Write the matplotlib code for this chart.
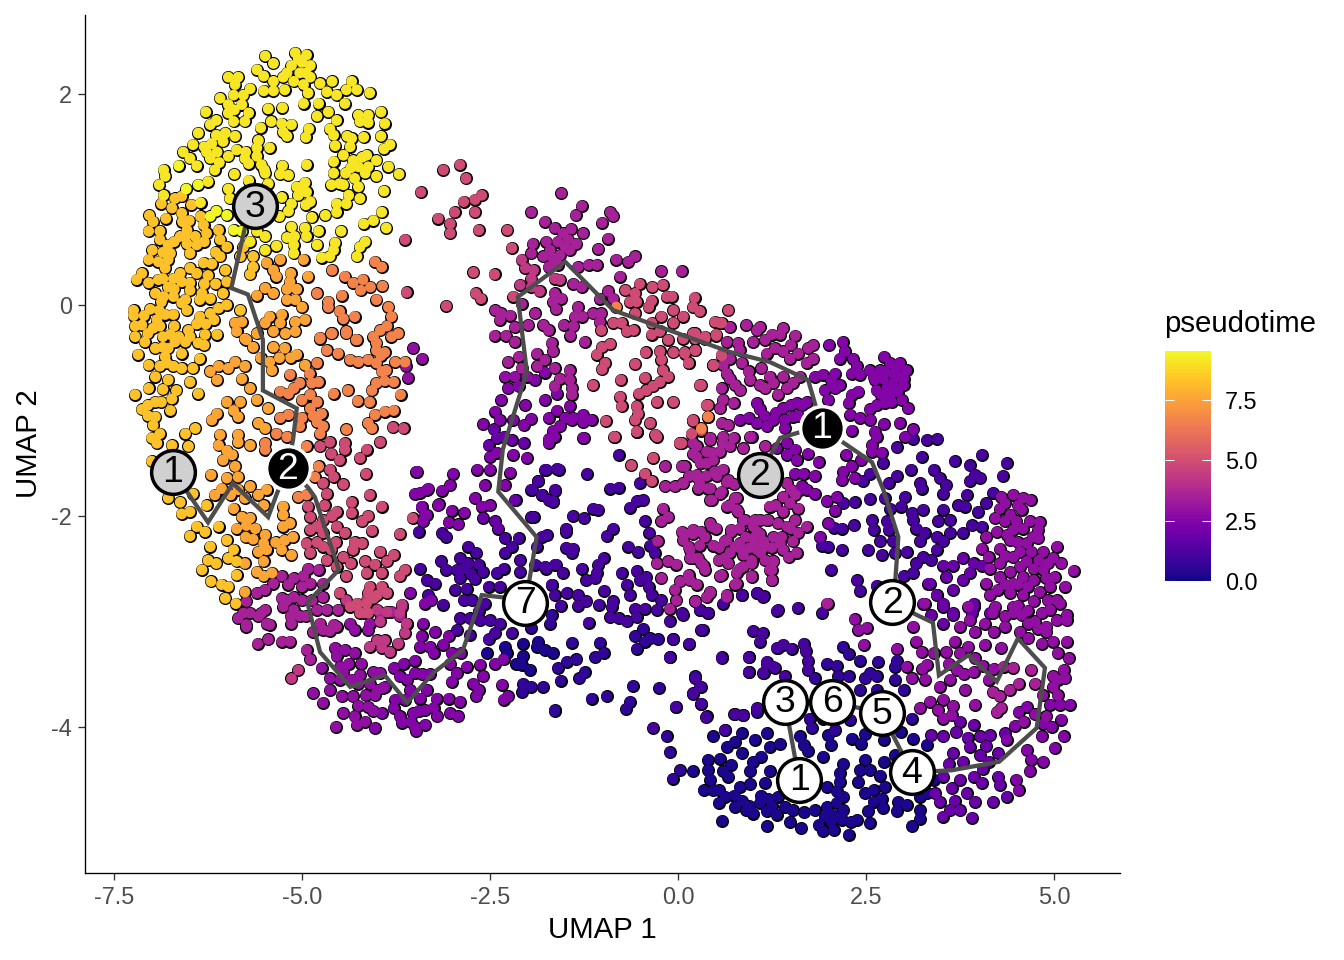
import numpy as np
import matplotlib
matplotlib.use('Agg')
import matplotlib.pyplot as plt
from matplotlib.colors import Normalize

plt.rcParams['font.family'] = ['Liberation Sans', 'DejaVu Sans']
plt.rcParams['axes.unicode_minus'] = False

# cells, (UMAP 1, UMAP 2), grouped by pseudotime colour
bright_yellow = [(-6.64,1.32),(-6.38,1.14),(-6.54,1.10),(-6.14,0.89),(-6.00,0.85),(-5.91,0.71),(-5.80,0.70),(-6.22,0.84)]
yellow = [(-5.49,2.36),(-5.38,2.29),(-5.60,2.23),(-5.51,2.17),(-5.09,2.39),(-4.94,2.37),(-5.14,2.27),(-4.89,2.27),(-5.25,2.16),(-5.03,2.20),
(-4.89,2.16),(-5.38,2.12),(-5.11,2.12),(-4.76,2.10),(-4.60,2.12),(-4.98,2.09),(-5.51,2.03),(-5.38,2.03),(-5.23,2.04),(-5.98,2.16),
(-5.85,2.16),(-5.89,2.09),(-5.69,2.05),(-5.78,1.99),(-5.91,1.99),(-6.09,1.96),(-5.98,1.90),(-4.10,2.01),(-4.34,2.12),(-4.27,2.04),
(-4.41,2.04),(-4.67,2.02),(-4.54,1.99),(-4.43,1.91),(-4.92,2.01),(-4.98,1.91),(-4.78,1.91),(-6.28,1.83),(-5.45,1.86),(-5.26,1.87),
(-5.98,1.82),(-5.71,1.82),(-5.91,1.74),(-5.76,1.74),(-4.65,1.83),(-4.80,1.79),(-4.54,1.75),(-4.25,1.80),(-4.12,1.80),(-3.95,1.83),
(-4.23,1.74),(-4.12,1.73),(-3.90,1.72),(-6.14,1.75),(-6.22,1.71),(-5.41,1.74),(-5.55,1.68),(-5.27,1.72),(-5.14,1.71),(-5.25,1.64),
(-5.20,1.60),(-4.91,1.67),(-4.95,1.59),(-4.63,1.67),(-4.58,1.61),(-6.38,1.63),(-6.14,1.61),(-6.02,1.63),(-5.89,1.60),(-6.20,1.53),
(-5.58,1.56),(-4.34,1.58),(-4.18,1.59),(-3.95,1.60),(-3.83,1.52),(-3.91,1.48),(-6.45,1.52),(-4.56,1.51),(-6.58,1.45),(-6.27,1.45),
(-6.13,1.45),(-5.87,1.47),(-5.60,1.49),(-5.43,1.49),(-4.36,1.50),(-6.49,1.39),(-6.22,1.39),(-5.98,1.41),(-5.76,1.39),(-5.60,1.41),
(-4.45,1.42),(-4.14,1.42),(-4.58,1.36),(-4.32,1.37),(-6.40,1.32),(-5.71,1.34),(-5.54,1.33),(-4.94,1.33),(-5.26,1.32),(-4.01,1.37),
(-4.25,1.31),(-4.12,1.31),(-3.85,1.31),(-6.84,1.28),(-6.82,1.22),(-6.16,1.28),(-5.29,1.24),(-5.18,1.23),(-5.90,1.24),(-5.49,1.25),
(-4.58,1.25),(-4.42,1.25),(-4.16,1.25),(-4.01,1.22),(-3.71,1.24),(-6.90,1.14),(-6.25,1.17),(-5.71,1.18),(-5.45,1.15),(-4.96,1.16),
(-5.07,1.12),(-4.61,1.14),(-4.45,1.14),(-4.25,1.12),(-5.98,1.10),(-6.84,1.04),(-4.94,1.07),(-5.05,1.04),(-4.38,1.04),(-3.91,1.08),
(-4.23,1.01),(-4.89,0.98),(-6.35,0.97),(-5.96,1.01),(-5.27,1.02),(-5.14,0.96),(-5.18,0.89),(-4.54,0.96),(-4.41,0.96),(-4.54,0.88),
(-4.69,0.85),(-4.87,0.83),(-3.94,0.88),(-5.30,0.84),(-4.05,0.80),(-4.18,0.77),(-3.88,0.73),(-5.14,0.74),(-4.96,0.73),(-4.94,0.65),
(-4.78,0.70),(-4.48,0.70),(-5.20,0.64),(-5.49,0.65),(-5.60,0.70),(-5.69,0.60),(-4.16,0.60),(-4.23,0.55),(-4.27,0.46),(-4.56,0.59),
(-4.58,0.52),(-4.80,0.57),(-5.34,0.56),(-5.11,0.57),(-5.11,0.49),(-5.49,0.52),(-4.74,0.45),(-4.63,0.46),
(-5.05,2.33),(-5.00,2.30),(-5.20,2.20),(-4.95,2.20),(-5.80,1.90),(-5.90,1.85),(-5.75,1.45),(-5.50,1.28),(-6.10,1.35),(-6.30,1.50),
(-6.05,1.55),(-5.50,1.10),(-4.35,1.30),(-4.50,1.15),(-4.30,1.20),(-4.95,0.95),(-5.00,1.10),(-4.20,1.40),(-4.40,1.60),(-5.10,0.65)]
gold = [(-6.69,1.01),(-6.60,1.03),(-6.87,0.96),(-6.73,0.92),(-6.47,0.95),(-5.78,0.55),(-7.03,0.85),(-6.98,0.79),(-7.04,0.70),(-6.81,0.82),
(-6.60,0.87),(-6.59,0.79),(-6.35,0.84),(-6.31,0.76),(-6.89,0.70),(-6.89,0.62),(-6.53,0.71),(-6.62,0.65),(-6.42,0.65),(-6.27,0.68),
(-6.11,0.71),(-6.09,0.62),(-6.78,0.57),(-6.99,0.52),(-6.53,0.58),(-6.40,0.57),(-6.75,0.49),(-6.49,0.49),(-6.00,0.55),(-7.04,0.43),
(-6.91,0.41),(-6.78,0.43),(-6.09,0.46),(-5.82,0.46),(-5.65,0.46),(-6.82,0.35),(-6.31,0.40),(-6.20,0.39),(-6.49,0.35),(-6.62,0.30),
(-6.02,0.33),(-5.65,0.36),(-7.13,0.30),(-7.20,0.24),(-6.71,0.25),(-7.04,0.21),(-6.91,0.24),(-6.49,0.21),(-6.00,0.22),(-5.69,0.29),
(-6.78,0.17),(-6.95,0.11),(-6.49,0.14),(-6.84,0.08),(-6.71,0.08),(-6.33,0.11),(-6.05,0.11),(-6.87,0.03),(-6.22,0.06),(-6.60,0.02),
(-6.36,0.05),(-6.00,0.00),(-6.11,-0.03),(-6.53,-0.05),(-5.82,-0.05),(-7.24,-0.05),(-7.24,-0.10),(-7.02,-0.04),(-6.22,-0.08),(-6.82,-0.09),
(-6.93,-0.14),(-6.71,-0.09),(-6.36,-0.11),(-6.17,-0.14),(-7.22,-0.20),(-7.13,-0.19),(-6.98,-0.22),(-6.89,-0.20),(-6.51,-0.24),(-6.75,-0.28),
(-7.22,-0.30),(-6.64,-0.30),(-6.29,-0.28),(-6.13,-0.28),(-7.09,-0.35),(-6.95,-0.41),(-7.18,-0.47),(-6.78,-0.41),(-6.60,-0.46),(-6.82,-0.49),
(-6.49,-0.30),(-6.69,-0.35),(-6.38,-0.36),(-6.36,-0.51),(-6.89,-0.58),(-7.04,-0.57),(-6.71,-0.58),(-6.95,-0.68),(-6.78,-0.71),(-6.67,-0.81),
(-7.04,-0.79),(-7.22,-0.85),(-6.49,-0.73),(-6.38,-0.84),(-6.95,-0.92),(-6.87,-0.92),(-6.73,-0.89),(-7.13,-0.99),(-6.75,-1.00),(-6.95,-1.06),
(-6.98,-1.14),(-6.89,-1.22),(-7.00,-1.26),(-6.93,-1.31),(-6.55,-1.22),(-6.42,-1.17),(-6.73,-1.33),(-6.51,-1.34),(-7.00,-1.48),(-6.78,-1.83),
(-6.62,-1.87),(-6.45,-1.79),(-6.60,-1.98),(-6.27,-1.90),(-6.49,-1.96),(-6.40,-2.10),(-6.29,-2.15),(-6.49,-2.19),(-6.22,-2.29),(-6.25,-2.42),
(-6.14,-2.45),(-6.33,-2.51),(-5.98,-2.40),(-5.87,-2.43),(-5.87,-2.56),(-6.21,-2.62),(-6.07,-2.65),(-5.98,-2.67),(-6.02,-2.78),(-5.88,-2.83),
(-6.11,-2.10),(-6.00,-2.23),(-5.91,-2.32),
(-6.70,0.15),(-6.60,0.22),(-6.55,0.05),(-6.30,0.20),(-6.15,0.20),(-6.90,-0.05),(-7.10,-0.10),(-6.70,-0.20),(-6.40,-0.18),(-6.28,-0.18),
(-7.05,-0.27),(-6.85,-0.30),(-6.55,-0.35),(-6.30,-0.38),(-6.85,-0.40),(-6.85,-0.80),(-6.80,-0.55),(-6.30,0.60),(-6.15,0.50),(-6.70,0.60),
(-6.85,0.50),(-6.40,0.30),(-6.25,0.28),(-6.85,0.25),(-6.50,0.80),(-6.55,0.65),(-6.60,-0.60),(-6.45,-0.60),(-7.05,-0.95),(-7.05,-1.05)]
orange = [(-4.98,0.43),(-5.29,0.43),(-5.47,0.40),(-5.38,0.33),(-5.34,0.27),(-4.92,0.27),(-5.16,0.22),(-5.07,0.15),(-5.20,0.05),(-5.09,0.05),
(-5.00,-0.02),(-5.49,0.16),(-5.38,0.11),(-5.60,0.09),(-5.89,-0.17),(-5.80,-0.16),(-5.43,-0.11),(-5.27,-0.09),(-5.29,-0.17),(-5.09,-0.16),
(-4.96,-0.14),(-5.49,-0.17),(-5.87,-0.25),(-5.76,-0.32),(-5.60,-0.27),(-5.22,-0.27),(-5.09,-0.25),(-5.38,-0.25),(-5.74,-0.33),(-5.38,-0.40),
(-5.23,-0.41),(-5.07,-0.47),(-4.96,-0.57),(-6.22,-0.63),(-6.11,-0.58),(-5.98,-0.60),(-6.13,-0.71),(-5.89,-0.54),(-5.76,-0.58),(-5.80,-0.70),
(-5.69,-0.79),(-5.43,-0.54),(-5.40,-0.62),(-5.60,-0.90),(-5.82,-0.92),(-6.00,-0.92),(-5.45,-0.98),(-5.91,-1.00),(-6.13,-1.03),(-6.20,-1.09),
(-5.85,-1.06),(-5.58,-1.12),(-5.49,-1.17),(-6.09,-1.23),(-5.85,-1.23),(-5.85,-1.30),(-6.11,-1.33),(-5.69,-1.33),(-6.00,-1.38),(-5.93,-1.42),
(-6.05,-1.47),(-5.89,-1.53),(-5.85,-1.63),(-6.00,-1.64),(-6.21,-1.61),(-6.07,-1.74),(-6.16,-1.80),(-5.85,-1.75),(-5.69,-1.72),(-5.76,-1.83),
(-5.58,-1.80),(-5.47,-1.75),(-5.51,-1.90),(-5.91,-1.93),(-5.80,-2.01),(-5.69,-2.02),(-5.87,-2.12),(-5.74,-2.09),(-5.62,-2.12),(-5.49,-2.18),
(-5.51,-2.26),(-5.58,-2.34),(-5.47,-2.32),(-5.51,-2.43),(-5.76,-2.45),(-5.60,-2.53),(-5.40,-2.54),(-5.51,-2.57),(-5.76,-2.72),(-5.25,-1.91),
(-5.25,-1.99),(-5.25,-2.10),(-5.16,-2.07),(-5.12,-2.20),(-5.23,-2.23),(-5.27,-2.32),(-5.14,-2.37),
(-5.20,0.15),(-5.15,0.30),(-5.65,-0.40),(-5.55,-0.50),(-5.30,-0.50),(-5.15,-0.50),(-5.75,-2.20),(-5.65,-2.22),(-5.35,-2.25),(-5.95,-1.80)]
coral = [(-4.03,0.41),(-3.94,0.36),(-4.43,0.27),(-4.32,0.21),(-4.19,0.24),(-4.22,0.14),(-4.09,0.17),(-3.93,0.18),(-4.60,0.33),(-4.80,0.11),
(-4.65,0.03),(-4.47,0.09),(-4.65,-0.02),(-4.01,0.05),(-3.85,-0.02),(-4.50,-0.06),(-4.45,-0.13),(-4.30,-0.11),(-3.81,-0.11),(-3.87,-0.20),
(-3.96,-0.24),(-3.72,-0.27),(-3.81,-0.30),(-4.05,-0.30),(-4.76,-0.31),(-4.61,-0.27),(-4.41,-0.25),(-4.27,-0.33),(-4.76,-0.32),(-4.60,-0.27),
(-4.41,-0.27),(-4.28,-0.33),(-4.01,-0.36),(-4.01,-0.43),(-4.52,-0.46),(-4.67,-0.43),(-4.80,-0.55),(-4.36,-0.52),(-4.25,-0.54),(-4.12,-0.52),
(-4.01,-0.55),(-3.94,-0.63),(-3.76,-0.54),(-3.63,-0.54),(-3.78,-0.73),(-4.01,-0.74),(-4.07,-0.81),(-3.69,-0.85),(-4.58,-0.84),(-4.39,-0.81),
(-4.26,-0.91),(-4.10,-0.92),(-3.78,-1.00),(-3.90,-1.01),(-4.03,-1.04),(-4.12,-1.12),(-4.07,-1.17),(-4.41,-1.18),(-4.78,-0.73),(-4.87,-0.74),
(-5.16,-0.66),(-5.03,-0.74),(-5.11,-0.79),(-5.29,-0.82),(-5.18,-0.84),(-4.89,-0.85),(-5.00,-0.90),(-4.80,-0.92),(-4.89,-0.98),(-4.74,-1.03),
(-5.29,-1.07),(-5.18,-1.04),(-5.00,-1.07),(-4.80,-1.11),(-5.03,-1.15),(-4.72,-1.15),(-4.76,-1.22),(-5.34,-1.22),(-5.20,-1.25),(-4.78,-1.53),
(-4.83,-1.63),(-5.05,-1.82),(-4.94,-1.80),(-5.49,-1.31),(-5.49,-1.37),(-4.94,-1.34),(0.40,-1.06),(0.31,-1.17),(-0.82,-0.02),
(-3.90,-0.45),(-3.95,-0.48),(-3.88,-0.62),(-3.90,-0.72),(-4.90,-0.65),(-4.85,-1.05)]
rose = [(-3.79,-1.16),(-3.65,-1.17),(-3.96,-1.30),(-4.14,-1.37),(-4.23,-1.45),(-4.15,-1.60),(-4.43,-1.31),(-4.43,-1.37),(-4.63,-1.30),(-4.76,-1.34),
(-4.61,-1.41),(-4.50,-1.47),(-4.63,-1.56),(-4.58,-1.63),(-4.72,-1.69),(-4.45,-1.70),(-4.67,-1.79),(-4.10,-1.80),(-4.34,-1.87),(-4.34,-1.97),
(-3.94,-1.91),(-4.12,-2.00),(-4.20,-2.05),(-4.07,-2.14),(-3.70,-2.17),(-3.53,-2.02),(-4.54,-1.96),(-4.92,-1.91),(-4.89,-2.01),(-4.72,-2.04),
(-4.54,-2.10),(-4.89,-2.13),(-4.72,-2.16),(-4.43,-2.16),(-4.94,-2.26),(-4.89,-2.35),(-4.72,-2.29),(-4.61,-2.32),(-4.20,-2.26),(-4.32,-2.32),
(-4.45,-2.39),(-4.67,-2.42),(-4.54,-2.48),(-4.41,-2.57),(-4.16,-2.43),(-4.03,-2.46),(-3.78,-2.37),(-3.96,-2.34),(-3.87,-2.43),(-3.94,-2.54),
(-4.14,-2.54),(-3.63,-2.51),(-3.70,-2.57),(-4.10,-2.67),(-3.94,-2.67),(-3.87,-2.73),(-4.12,-2.73),(-4.27,-2.83),(-4.14,-2.83),(-4.23,-2.92),
(-4.36,-2.86),(-4.12,-2.92),(-4.50,-2.73),(-3.12,1.28),(-2.90,1.33),(-2.82,1.20),(-3.42,1.07),(-2.85,0.98),(-2.61,1.04),(-2.70,1.00),
(-2.97,0.88),(-2.70,0.88),(-3.19,0.82),(-3.03,0.77),(-3.03,0.68),(-2.65,0.71),(-3.63,0.62),(-2.27,0.71),(-2.21,0.54),(-2.72,0.31),
(-2.44,0.29),(-2.69,0.11),(-2.62,0.06),(-3.08,-0.01),(-3.61,0.12),(-2.19,0.08),(-0.86,-0.17),(-1.02,-0.24),(-0.75,-0.17),(-0.59,-0.24),
(-0.68,-0.25),(-0.57,-0.08),(-0.70,0.14),(-0.51,0.20),(-0.34,0.17),(-0.20,0.19),(-0.57,0.11),(-0.64,0.03),(-0.55,0.03),(-0.35,0.04),
(-0.39,-0.02),(-0.15,0.08),(-0.08,0.08),(0.22,0.07),(0.20,-0.02),(0.29,-0.06),(-0.06,-0.05),(-0.22,-0.11),(0.07,-0.11),(-0.35,-0.17),
(-0.06,-0.17),(-0.35,-0.28),(-0.24,-0.25),(-0.13,-0.33),(0.07,-0.32),(0.23,-0.27),(0.36,-0.32),(0.49,-0.16),(0.58,-0.17),(0.51,-0.29),
(0.67,-0.05),(-1.01,-0.40),(-0.90,-0.37),(-1.08,-0.47),(-0.97,-0.55),(-1.01,-0.61),(-0.43,-0.45),(-0.57,-0.56),(-0.24,-0.44),(-0.06,-0.45),
(-0.22,-0.52),(0.09,-0.45),(0.23,-0.43),(0.14,-0.55),(0.58,-0.48),(0.47,-0.57),(-0.20,-0.62),(-0.13,-0.68),(-0.44,-0.69),(-1.13,-0.76),
(-0.76,-0.71),(-0.24,-0.73),(-0.33,-0.77),(-0.42,-0.81),(-0.52,-0.84),(-0.77,-0.87),(-0.75,-0.96),(-0.55,-0.96),(-0.57,-1.09),(-0.53,-1.03),
(-0.96,-1.10),(-0.84,-1.25),(-0.55,-1.20),(-0.37,-1.12),(-0.28,-1.25),(-0.28,-0.92),(-0.06,-0.92),(0.29,-0.76),(0.03,-1.31),(0.20,-1.10),
(0.18,-1.22),(0.31,-1.19),(0.38,-0.95),(0.40,-1.06),(-0.85,-1.25),(-0.55,-1.20),(-0.30,-1.23),(0.02,-1.31),(-0.62,-1.52),(-0.33,-1.45),
(-0.44,-1.60),(-0.35,-1.67),(0.56,-0.17),(0.58,-0.47),(0.47,-0.57),(0.23,-0.32),(0.23,-0.43),(0.09,-0.46),(0.14,-0.55),(0.51,-0.28),
(0.20,-0.27),(0.36,-0.30),(0.31,-0.76),(0.40,-0.95),(0.20,-1.09),(0.18,-1.22),(0.05,-1.31),
(-4.70,-1.90),(-4.80,-2.10),(-4.80,-2.25),(-4.60,-2.00),(-4.55,-2.25),(-4.35,-2.45),(-4.30,-2.25),(-4.05,-2.78),(-4.00,-2.75)]
pink = [(-2.08,0.43),(-2.03,0.35),(-1.92,0.33),(-1.95,0.25),(-2.10,0.19),(-1.95,0.17),(-1.84,0.13),(-1.64,0.25),(-1.57,0.24),(-4.27,-2.86),
(-4.41,-2.80),(-4.14,-2.80),(-4.18,-2.92),(-4.00,-2.89),(-3.87,-2.91),(-3.67,-2.84),(-3.70,-2.92),(-3.61,-3.02),(-3.96,-3.00),(-3.63,-3.11),
(-3.72,-3.21),(-4.00,-3.18),(-3.90,-3.18),(-3.83,-3.29),(-3.94,-3.25),(-4.10,-3.24),(-5.14,-3.54),(-5.05,-3.46)]
magenta = [(-5.60,-2.73),(-5.49,-2.70),(-5.38,-2.64),(-5.27,-2.57),(-5.11,-2.59),(-5.00,-2.67),(-4.89,-2.64),(-4.72,-2.64),(-4.98,-2.57),(-4.92,-2.50),
(-4.78,-2.51),(-5.27,-2.78),(-5.11,-2.77),(-5.74,-2.81),(-5.25,-2.86),(-5.11,-2.89),(-5.03,-2.95),(-4.87,-2.80),(-4.72,-2.77),(-4.67,-2.89),
(-4.80,-2.89),(-4.52,-2.89),(-5.78,-2.92),(-5.85,-2.97),(-5.74,-3.03),(-5.49,-2.89),(-5.58,-2.95),(-5.47,-3.02),(-5.14,-3.02),(-4.76,-3.02),
(-4.58,-3.03),(-3.96,-2.92),(-3.81,-2.91),(-3.67,-2.86),(-3.70,-2.95),(-3.61,-3.02),(-5.69,-2.92),(-5.74,-3.05),(-5.54,-2.92),(-5.43,-3.03),
(-5.45,-3.17),(-5.59,-3.21),(-5.27,-3.19),(-5.16,-3.19),(-4.94,-3.27),(-4.89,-3.36),(-4.72,-3.08),(-4.63,-3.09),(-4.54,-3.05),(-1.95,0.88),
(-1.77,0.79),(-1.55,1.06),(-1.28,0.94),(-1.36,0.85),(-0.90,0.88),(-0.86,0.84),(-1.01,0.78),(-0.93,0.63),(-1.06,0.53),(-1.64,0.73),
(-1.53,0.68),(-1.42,0.72),(-1.26,0.68),(-1.46,0.62),(-1.35,0.58),(-1.44,0.52),(-1.57,0.47),(-1.70,0.52),(-1.79,0.46),(-1.75,0.60),
(-1.93,0.58),(-1.95,0.49),(-1.66,0.44),(-1.19,0.38),(-1.08,0.38),(-1.33,0.36),(-1.72,0.36),(-0.82,0.43),(-0.57,0.46),(-0.66,0.41),
(-0.77,0.27),(-0.22,0.32),(0.05,0.32),(-1.39,0.20),(-1.28,0.17),(-1.64,0.11),(-1.55,0.06),(-1.66,0.03),(-1.62,-0.04),(-0.93,0.13),
(-1.04,0.06),(-0.86,0.06),(-2.08,0.01),(-2.43,-0.05),(-2.35,-0.08),(-2.37,-0.14),(-2.23,-0.10),(-2.17,-0.21),(-1.90,-0.08),(-1.99,-0.19),
(-1.79,-0.19),(-1.72,-0.24),(-2.44,-0.29),(-2.29,-0.29),(-2.17,-0.35),(-1.68,-0.36),(-1.66,-0.44),(-2.12,-0.49),(-1.88,-0.46),(-1.77,-0.52),
(-2.26,-0.54),(-1.87,-0.58),(-1.64,-0.60),(-1.44,-0.62),(-1.57,-0.70),(-1.44,-0.71),(-1.64,-0.77),(-1.41,-0.79),(-1.41,-0.85),(-2.08,-0.60),
(-1.33,-0.02),(-1.37,-0.11),(-1.27,-0.11),(-1.52,-0.19),(-1.39,-0.20),(-1.43,-0.29),(-1.13,-0.08),(-1.02,-0.08),(-1.04,-0.16),(-1.24,-0.35),
(-0.17,-1.53),(0.05,-1.53),(-0.17,-1.72),(-0.04,-1.72),(0.07,-1.69),(-0.20,-1.93),(-0.13,-2.01),(-0.22,-2.05),(-0.27,-2.24),(0.05,-2.15),
(0.20,-2.13),(0.07,-2.23),(0.16,-2.32),(0.29,-2.28),(0.16,-2.40),(0.27,-2.40),(0.43,-2.07),(0.51,-2.12),(0.36,-2.51),(0.31,-2.45),
(-0.28,-2.45),(-0.13,-2.43),(-0.02,-2.46),(-0.22,-2.59),(0.14,-2.56),(0.03,-2.62),(0.25,-2.65),(-0.04,-2.70),(-0.02,-2.80),(-0.11,-2.88),
(0.23,-2.81),(0.43,-2.72),(0.38,-2.77),(0.47,-2.28),(0.62,-2.24),(0.71,-2.13),(0.82,-2.12),(1.00,-2.10),(1.09,-2.04),(1.18,-2.04),
(0.87,-2.04),(0.78,-1.94),(0.65,-1.91),(0.76,-1.83),(0.43,-1.85),(0.56,-1.79),(0.65,-1.68),(0.27,-1.74),(0.40,-1.74),(0.25,-1.63),
(0.49,-1.58),(0.38,-1.50),(0.25,-1.44),(0.56,-1.39),(0.25,-1.34),(0.69,-1.34),(0.43,-1.26),(0.60,-1.25),(0.96,-1.25),(1.16,-1.34),
(1.22,-1.91),(0.54,-2.42),(0.67,-2.45),(0.69,-2.35),(0.82,-2.26),(0.87,-2.37),(1.00,-2.21),(1.14,-2.24),(1.27,-2.20),(1.05,-2.32),
(1.16,-2.42),(1.27,-2.43),(0.98,-2.45),(0.87,-2.48),(0.78,-2.54),(0.76,-2.65),(0.98,-2.58),(1.25,-2.51),(1.25,-2.61),(0.58,-2.56),
(0.65,-2.75),(0.69,-0.21),(0.91,-0.19),(1.09,-0.21),(1.05,-0.24),(1.40,-0.22),(1.56,-0.29),(1.36,-0.28),(1.25,-0.28),(1.16,-0.33),
(1.80,-0.38),(1.73,-0.41),(1.29,-0.41),(1.18,-0.46),(1.40,-0.44),(1.60,-0.46),(1.80,-0.51),(1.49,-0.51),(1.71,-0.55),(1.11,-0.60),
(0.65,-0.35),(0.80,-0.36),(0.82,-0.43),(0.69,-0.51),(0.85,-0.55),(0.60,-0.57),(0.65,-0.65),(0.94,-0.63),(0.69,-0.70),(0.58,-0.79),
(0.96,-0.71),(0.76,-0.76),(0.83,-0.81),(1.09,-0.76),(1.16,-0.79),(1.22,-0.68),(1.27,-0.74),(1.40,-0.68),(1.53,-0.74),(1.45,-0.79),
(1.62,-0.68),(1.33,-0.85),(0.60,-0.90),(0.56,-0.98),(0.58,-1.12),(0.67,-1.14),(0.74,-0.93),(0.20,-1.31),(0.43,-1.28),(0.60,-1.31),
(0.74,-1.26),(0.20,-1.41),(0.38,-1.39),(0.47,-1.47),(0.25,-1.61),(0.60,-1.56),(0.09,-1.53),(0.07,-1.69),(0.29,-1.69),(0.67,-1.66),
(0.58,-1.77),(0.43,-1.74),(0.45,-1.85),(0.87,-1.36),(0.78,-1.83),(0.69,-1.90),(0.80,-1.96),(0.89,-2.04),(1.02,-2.04),(1.20,-2.04),
(1.22,-1.91),(1.45,-1.69),(1.56,-1.80),(1.49,-1.88),(1.40,-1.96),(1.60,-1.93),(1.56,-2.04),(1.71,-2.10),(1.60,-2.16),(1.33,-2.07),
(1.38,-2.20),(1.09,-2.17),(1.02,-2.26),(1.16,-2.29),(1.36,-2.26),(1.53,-2.24),(1.58,-2.35),(1.47,-2.39),(1.27,-2.43),(1.22,-2.51),
(0.98,-2.57),(0.82,-2.50),(0.98,-2.42),(0.85,-2.32),(0.65,-2.23),(0.76,-2.29),(0.62,-2.40),(0.71,-2.15),(0.45,-2.10),(0.36,-2.20),
(0.20,-2.17),(0.09,-2.17),(0.14,-2.29),(0.20,-2.40),(0.34,-2.47),(0.56,-2.57),(0.78,-2.64),(0.65,-2.77),(0.43,-2.73),(0.16,-2.61),
(1.25,-2.61),(0.23,-2.81),(4.46,-3.44),(4.33,-3.43),(4.53,-3.59),(4.41,-3.65),(4.19,-3.67),(4.30,-3.82),(4.24,-3.86),(4.28,-3.71),
(4.70,-3.46),(4.75,-3.59),(1.99,-2.83),(1.98,-2.83),
(0.30,-1.50),(0.45,-1.40),(0.15,-1.62),(0.52,-1.62),(0.38,-1.62),(0.95,-2.30),(1.10,-2.35),(1.40,-2.32),(1.50,-1.75),(1.40,-1.82),
(1.30,-1.90),(1.45,-2.10),(1.25,-2.30),(1.05,-2.15),(0.90,-2.20),(0.55,-2.30),(0.30,-2.15),(0.75,-1.70),(1.50,-2.12),(-5.20,-2.80),
(-5.00,-2.80),(-5.18,-2.65),(-5.15,-2.95),(-4.95,-2.95),(-4.85,-3.10),(-1.60,0.60),(-1.50,0.55),(-1.60,0.38),(1.00,-0.35),(1.50,-0.38)]
purple = [(-4.85,-3.68),(-4.72,-3.77),(-4.63,-3.65),(-4.47,-3.71),(-4.32,-3.71),(-4.45,-3.87),(-4.30,-3.90),(-4.55,-4.00),(-4.27,-3.98),(-4.16,-3.95),
(-4.12,-3.81),(-4.03,-3.70),(-4.36,-3.02),(-4.30,-3.08),(-4.10,-3.02),(-4.12,-3.08),(-4.56,-3.25),(-4.43,-3.27),(-4.54,-3.33),(-4.38,-3.40),
(-4.21,-3.40),(-4.49,-3.43),(-4.74,-3.44),(-4.63,-3.54),(-4.49,-3.55),(-4.45,-3.48),(-4.23,-3.51),(-4.05,-3.48),(-3.96,-3.49),(-4.25,-3.59),
(-4.10,-3.59),(-4.00,-3.65),(-3.92,-3.63),(-3.52,-0.41),(-3.40,-0.51),(-3.62,-0.58),(-3.59,-0.69),(-2.30,-0.68),(-2.17,-0.68),(-2.01,-0.68),
(4.30,-1.82),(4.46,-1.80),(4.59,-1.83),(4.69,-1.85),(4.57,-1.94),(4.28,-1.93),(4.42,-1.99),(4.22,-2.02),(4.35,-2.05),(4.81,-2.06),
(4.79,-2.13),(4.79,-2.21),(4.59,-2.12),(4.46,-2.13),(4.24,-2.15),(4.10,-2.20),(4.04,-2.31),(4.42,-2.23),(4.64,-2.26),(4.70,-2.34),
(4.55,-2.34),(4.28,-2.31),(4.13,-2.39),(4.46,-2.39),(5.04,-2.29),(4.86,-2.34),(4.99,-2.40),(5.10,-2.45),(5.26,-2.52),(4.73,-2.50),
(4.86,-2.51),(4.64,-2.43),(4.28,-2.45),(4.15,-2.50),(4.42,-2.53),(4.59,-2.58),(4.73,-2.61),(4.90,-2.59),(5.01,-2.58),(5.15,-2.67),
(4.95,-2.67),(4.81,-2.72),(4.46,-2.64),(4.28,-2.58),(4.10,-2.64),(4.15,-2.75),(4.42,-2.73),(4.59,-2.75),(4.73,-2.81),(4.92,-2.80),
(5.08,-2.83),(4.46,-2.86),(4.22,-2.86),(5.17,-2.94),(4.84,-2.92),(4.57,-2.94),(5.04,-2.80),(4.95,-2.89),(5.17,-2.99),(5.04,-2.99),
(4.79,-3.07),(4.66,-3.02),(4.46,-2.92),(4.19,-2.92),(4.35,-3.05),(4.08,-3.02),(3.88,-2.99),(3.86,-2.86),(4.08,-3.22),(4.30,-3.25),
(4.66,-3.16),(4.99,-3.19),(5.17,-3.19),(4.84,-3.21),(5.13,-3.46),(4.99,-3.52),(5.15,-3.54),(4.99,-3.62),(3.75,-3.05),(3.68,-3.19),
(3.86,-3.24),(3.57,-3.29),(3.71,-3.46),(3.93,-3.48),(4.13,-3.55),(3.82,-3.65),(3.48,-3.62),(3.22,-3.82),(3.35,-3.76),(3.53,-3.74),
(3.46,-3.84),(3.66,-3.80),(3.95,-3.79),(3.29,-3.55),(3.11,-3.54),(3.31,-3.41),(3.17,-3.19),(3.24,-3.29),(3.13,-3.05),(3.28,-2.83),
(2.91,-3.26),(3.04,-3.43),(2.47,-3.22),(2.35,-2.98),(2.40,-3.08),(2.51,-3.06),(3.64,-3.89),(3.53,-3.92),
(4.52,-1.90),(4.35,-1.88),(4.50,-2.05),(4.68,-2.05),(4.38,-2.18),(4.52,-2.25),(4.35,-2.38),(4.72,-2.20),(4.55,-2.48),(4.80,-2.42),
(4.92,-2.45),(4.35,-2.65),(4.52,-2.65),(4.65,-2.67),(4.25,-2.70),(4.52,-2.85),(4.65,-2.90),(4.35,-2.95),(4.75,-3.00),(4.90,-3.05),
(4.55,-3.10),(4.20,-3.10),(3.95,-3.10),(3.75,-3.30),(3.95,-3.35),(3.62,-3.55),(3.80,-3.50),(4.05,-3.42),(4.20,-3.45),(3.60,-3.40),
(3.40,-3.30),(3.25,-3.45),(5.05,-3.30),(4.90,-3.10),(5.20,-3.35),(5.05,-3.55),(4.85,-3.70),(4.75,-3.88),(4.60,-3.95),(4.90,-3.90),
(5.05,-3.70),(-4.35,-3.55),(-4.25,-3.80),(-4.15,-3.70),(-4.30,-3.30),(-4.05,-3.85)]
violet = [(-3.48,-1.58),(-3.43,-1.78),(-3.32,-1.74),(-3.19,-1.90),(-3.41,-1.91),(-3.37,-1.99),(-3.39,-2.05),(-3.47,-1.58),(-2.99,-1.60),(-3.03,-1.71),
(-3.14,-1.76),(-3.34,-1.75),(-3.50,-1.79),(-3.18,-1.89),(-3.41,-1.91),(-3.34,-1.99),(-3.39,-2.05),(-3.01,-1.95),(-2.84,-1.97),(-3.05,-2.06),
(-2.92,-2.08),(-2.67,-1.56),(-2.70,-1.83),(-2.61,-1.91),(-2.50,-1.90),(-2.57,-1.71),(-2.50,-1.56),(-2.50,-1.44),(-2.41,-1.40),(-2.19,-1.42),
(-2.23,-1.59),(-2.01,-1.45),(-2.30,-1.71),(-2.26,-0.79),(-2.12,-0.77),(-1.77,-0.90),(-2.03,-0.95),(-2.35,-0.90),(-2.43,-1.01),(-2.37,-1.09),
(-2.19,-1.09),(-1.95,-1.08),(-2.05,-1.14),(-2.59,-1.13),(-1.61,-0.84),(-1.44,-0.96),(-1.61,-1.00),(-1.72,-1.07),(-1.50,-1.07),(-1.39,-1.07),
(-1.26,-1.04),(-1.15,-1.09),(-1.41,-1.09),(-1.26,-1.11),(-1.57,-1.15),(-1.25,-1.26),(-1.66,-1.19),(-1.72,-1.27),(-1.90,-0.71),(-1.77,-0.64),
(-3.78,-3.44),(-3.65,-3.40),(-3.50,-3.37),(-3.70,-3.52),(-3.50,-3.49),(-3.90,-3.62),(-3.56,-3.65),(-3.34,-3.65),(-3.21,-3.73),(-3.05,-3.73),
(-3.76,-3.74),(-3.63,-3.74),(-3.78,-3.82),(-3.43,-3.73),(-3.36,-3.84),(-3.25,-3.82),(-3.03,-3.87),(-2.92,-3.90),(-2.90,-3.76),(-3.94,-3.87),
(-3.70,-3.90),(-3.52,-3.87),(-3.36,-3.98),(-3.67,-3.96),(-3.50,-4.00),(-4.03,-4.01),(-3.48,-4.04),(-3.39,-3.02),(-3.41,-3.14),(-3.30,-3.24),
(-3.43,-3.24),(-3.25,-3.30),(-3.12,-3.22),(-3.05,-3.14),(-3.01,-3.30),(-3.03,-3.40),(-2.94,-3.49),(-3.01,-3.57),(-2.81,-3.43),(-2.89,-3.30),
(-3.23,-3.10),(-3.56,-2.73),(-3.37,-2.83),(-3.28,-2.80),(-2.34,-3.60),(-2.26,-3.71),(-2.32,-3.74),(-2.43,-3.40),(-2.63,-3.41),(-2.59,-3.52),
(-2.72,-3.59),(-2.65,-3.65),(-2.68,-3.71),(-2.32,-3.36),(-1.72,-1.31),(-1.64,-1.25),(-1.26,-1.26),(1.82,-0.68),(1.93,-0.66),(2.09,-0.65),
(2.04,-0.71),(2.33,-0.51),(2.31,-0.65),(2.42,-0.66),(2.38,-0.58),(2.74,-0.49),(2.01,-0.38),(2.19,-0.35),(2.22,-0.44),(2.15,-0.51),
(2.55,-0.62),(2.69,-0.62),(2.82,-0.55),(2.95,-0.55),(3.04,-0.62),(2.86,-0.65),(2.73,-0.70),(3.00,-0.70),(2.62,-0.71),(2.86,-0.74),
(3.00,-0.76),(2.64,-0.81),(2.80,-0.77),(1.95,-0.81),(2.09,-0.79),(2.15,-0.76),(2.40,-0.82),(2.31,-0.85),(2.27,-0.93),(2.00,-0.90),
(2.82,-0.85),(2.75,-0.93),(2.84,-0.92),(2.98,-0.90),(3.06,-0.98),(2.55,-0.99),(2.64,-0.95),(2.29,-1.04),(2.42,-1.07),(2.56,-1.09),
(1.58,-0.93),(1.71,-0.92),(1.40,-0.98),(1.05,-0.93),(1.09,-0.99),(0.94,-1.07),(0.82,-1.09),(1.05,-1.12),(0.98,-1.25),(1.18,-1.15),
(1.27,-1.09),(1.42,-1.09),(1.42,-1.17),(1.53,-1.06),(2.31,-1.19),(1.45,-1.31),(1.31,-1.36),(1.56,-1.37),(1.58,-1.47),(1.45,-1.42),
(1.73,-1.41),(1.87,-1.49),(1.67,-1.60),(1.82,-1.62),(2.62,-1.20),(2.64,-1.25),(2.74,-1.13),(2.95,-1.12),(3.13,-1.18),(3.02,-1.25),
(2.58,-1.33),(2.58,-1.39),(2.71,-1.40),(2.24,-1.42),(2.44,-1.47),(2.31,-1.53),(2.20,-1.58),(2.18,-1.66),(2.35,-1.64),(1.71,-1.75),
(1.82,-1.79),(1.62,-1.75),(2.09,-1.95),(1.98,-1.86),(2.11,-1.82),(2.00,-2.07),(1.89,-2.20),(5.08,-3.79),(5.21,-3.79),(4.64,-3.81),
(4.53,-3.86),(4.95,-3.79),(5.10,-3.93),(4.86,-3.97),(4.97,-4.00),(5.13,-4.09),(4.84,-4.09),(5.01,-4.20),(4.86,-4.33),(4.70,-4.31),
(4.68,-4.42),(4.50,-4.50),(4.53,-4.60),(4.37,-4.12),(4.64,-4.22),(4.48,-3.99),
(2.60,-0.68),(2.75,-0.63),(2.90,-0.60),(2.95,-0.68),(2.78,-0.78),(2.92,-0.82),(2.70,-0.85),(2.05,-0.76),(1.65,-0.95),(1.50,-0.95),
(1.30,-1.02),(1.15,-1.05),(1.60,-1.05),(1.55,-1.60),(1.65,-1.72),(-3.60,-3.55),(-3.40,-3.50),(-3.30,-3.50),(-3.45,-3.85),(-3.55,-3.95),(-3.20,-3.90)]
deep_violet = [(-2.52,-1.33),(-2.41,-1.26),(-2.32,-1.25),(-2.21,-1.28),(-2.05,-1.31),(-2.45,-1.18),(-2.59,-2.02),(-2.43,-2.05),(-2.39,-2.12),(-2.17,-1.85),
(3.53,-2.47),(3.66,-2.47),(3.79,-2.40),(3.93,-2.45),(4.04,-2.47),(3.57,-2.58),(3.79,-2.61),(3.88,-2.54),(3.33,-2.64),(3.44,-2.75),
(3.26,-2.83),(3.66,-2.70),(3.53,-2.86),(3.93,-2.83),(3.91,-2.92),(3.66,-2.92),(3.37,-2.94),(4.15,-2.92),(3.35,-2.64),(3.44,-2.75),
(3.53,-2.83),(3.66,-2.94),(3.53,-3.02),(3.93,-2.86),(3.75,-3.95),(4.02,-4.09),(4.15,-4.08),(3.93,-3.98),(4.35,-4.06),(4.26,-4.25),
(3.53,-4.09),(3.37,-4.08),(3.66,-4.25),(3.88,-4.19),(4.02,-4.27),(3.79,-4.33),(4.13,-4.33),(3.93,-4.47),(4.04,-4.53),(4.26,-4.47),
(4.28,-4.55),(3.64,-4.58),(3.75,-4.50),(3.53,-4.47),(3.42,-4.63),(3.48,-4.71),(3.84,-4.63),(3.95,-4.71),(4.19,-4.71),(4.37,-4.66),
(3.62,-4.79),(3.75,-4.79),(3.91,-4.86),(3.52,-4.85),(3.70,-4.05),(3.85,-4.10),(4.10,-4.18),(3.60,-4.35),(4.05,-4.40),(3.68,-4.70)]
indigo = [(-3.45,-2.15),(-3.14,-2.16),(-3.08,-2.20),(-3.43,-2.50),(-3.34,-2.61),(-3.23,-2.64),(-3.32,-2.75),(-3.12,-2.84),(-3.15,-2.43),(-3.08,-2.51),
(-2.94,-2.51),(-2.90,-2.40),(-2.79,-2.29),(-2.68,-2.35),(-2.79,-2.45),(-2.65,-2.46),(-2.59,-2.53),(-2.90,-2.59),(-2.96,-2.70),(-2.81,-2.69),
(-2.85,-2.80),(-2.74,-2.80),(-2.90,-2.97),(-2.77,-2.97),(-2.63,-2.99),(-2.50,-2.99),(-2.37,-3.02),(-2.52,-2.67),(-2.37,-2.67),(-2.57,-2.83),
(-2.52,-3.17),(-2.43,-3.11),(-2.32,-2.50),(-2.41,-2.54),(-2.10,-2.42),(-2.10,-2.53),(-2.21,-3.11),(-2.94,-3.08),(-2.77,-3.13),(-2.30,-2.21),
(-2.12,-2.21),(-2.30,-2.35),(-2.21,-2.29),(-1.88,-2.29),(-1.74,-2.18),(-1.81,-2.20),(-1.95,-2.01),(-1.86,-1.67),(-1.95,-1.75),(-1.81,-1.80),
(-1.66,-1.86),(-1.64,-1.75),(-1.77,-1.56),(-1.61,-1.55),(-1.64,-2.46),(-1.77,-2.48),(-1.90,-2.46),(-1.68,-2.65),(-1.75,-1.56),(-1.58,-1.56),
(-1.21,-1.60),(-0.79,-1.42),(-1.86,-1.67),(-1.94,-1.75),(-1.81,-1.80),(-1.63,-1.76),(-1.72,-1.85),(-1.66,-1.87),(-2.16,-1.85),(-0.90,-1.74),
(-0.79,-1.73),(-0.51,-1.69),(-0.64,-1.92),(-0.55,-1.86),(-0.46,-1.85),(-1.13,-1.93),(-1.06,-1.94),(-1.40,-2.00),(-1.25,-2.02),(-1.49,-2.12),
(-1.49,-2.15),(-1.92,-2.01),(-0.86,-2.12),(-0.95,-2.19),(-0.44,-2.05),(-0.38,-2.16),(-0.37,-2.28),(-0.66,-2.29),(-0.53,-2.34),(-0.31,-2.35),
(-1.49,-2.30),(-1.39,-2.31),(-1.41,-2.35),(-0.99,-2.40),(-1.06,-2.46),(-1.28,-2.50),(-1.08,-2.54),(-1.22,-2.61),(-1.10,-2.59),(-1.75,-2.50),
(-1.62,-2.46),(-1.53,-2.54),(-0.75,-2.54),(-0.55,-2.52),(-0.68,-2.65),(-0.64,-2.75),(-0.51,-2.61),(-0.42,-2.58),(-0.39,-2.67),(-0.35,-2.75),
(-0.98,-2.71),(-1.48,-2.73),(-1.64,-2.75),(-1.56,-2.85),(-1.68,-2.65),(-1.33,-2.75),(-1.33,-2.85),(-1.22,-2.81),(-1.05,-2.84),(-0.86,-2.81),
(-0.88,-2.86),(-0.90,-2.96),(-0.79,-2.97),(-0.68,-3.00),(-0.55,-2.96),(-0.57,-2.88),(-0.44,-2.88),(-0.28,-2.89),(-0.22,-2.80),(-1.19,-3.01),
(-0.11,-3.00),(0.05,-2.92),(0.29,-2.89),(0.40,-2.92),(0.31,-3.08),(-0.06,-3.17),(0.15,-3.21),(0.85,-2.75),(1.05,-2.73),(1.13,-2.77),
(1.31,-2.90),(-0.11,-3.34),(0.58,-3.35),(0.94,-3.34),(1.00,-3.09),(1.13,-3.11),(1.09,-3.19),(1.31,-3.25),(1.18,-3.40),(0.94,-3.48),
(1.14,-3.49),(1.27,-3.43),(0.23,-3.54),(0.20,-3.68),(0.29,-3.62),(0.31,-3.78),(-0.03,-3.81),(0.37,-3.91),(-0.33,-4.01),(0.75,-3.88),
(0.87,-3.89),(1.05,-3.82),(0.62,-4.03),(2.46,-1.67),(2.55,-1.60),(2.73,-1.50),(2.80,-1.69),(2.91,-1.62),(3.10,-1.56),(3.24,-1.44),
(3.31,-1.28),(3.45,-1.27),(2.91,-1.35),(3.13,-1.27),(3.68,-1.48),(4.04,-1.42),(3.88,-1.52),(4.37,-1.50),(4.32,-1.62),(3.40,-1.56),
(3.48,-1.64),(3.95,-1.61),(3.88,-1.67),(4.02,-1.64),(3.24,-1.74),(3.22,-1.69),(3.57,-1.71),(3.53,-1.79),(2.55,-1.84),(2.75,-1.83),
(3.02,-1.82),(2.35,-1.87),(2.20,-1.88),(2.97,-1.91),(2.82,-1.93),(3.26,-1.94),(3.84,-1.80),(3.73,-1.90),(3.53,-1.94),(3.82,-1.91),
(4.19,-1.78),(4.10,-1.88),(3.99,-1.96),(3.11,-1.97),(3.13,-2.04),(2.58,-2.04),(2.78,-2.05),(2.34,-2.09),(2.18,-2.12),(2.07,-2.11),
(3.62,-2.04),(3.46,-2.05),(3.17,-2.12),(3.91,-2.09),(4.04,-2.10),(3.28,-2.16),(3.44,-2.20),(3.62,-2.16),(3.79,-2.16),(2.60,-2.13),
(2.80,-2.13),(2.86,-2.24),(2.69,-2.24),(3.22,-2.24),(2.53,-2.32),(2.71,-2.37),(2.89,-2.35),(3.04,-2.34),(3.44,-2.32),(3.53,-2.24),
(3.26,-2.39),(3.37,-2.42),(3.17,-2.45),(3.13,-2.54),(3.00,-2.57),(2.18,-2.32),(1.91,-2.28),(2.00,-2.29),(2.04,-2.51),(2.38,-2.61),
(2.42,-2.71),(2.64,-2.66),(1.33,-2.89),(1.59,-2.87),(1.92,-2.92),(1.05,-2.73),(1.14,-2.76),(0.85,-2.75),(0.60,-2.83),(0.29,-2.89),
(0.40,-2.92),(0.07,-2.94),(1.33,-3.25),(1.40,-3.22),(1.51,-3.26),(1.67,-3.21),(1.70,-3.28),(1.73,-3.37),(1.73,-3.46),(0.58,-3.34),
(0.94,-3.34),(0.94,-3.48),(1.13,-3.49),(1.18,-3.38),(1.29,-3.44),(1.42,-3.52),(-2.75,-2.55),(-2.65,-2.90),(-2.70,-2.60),(-2.85,-2.50)]
navy = [(-1.41,-3.20),(-1.04,-3.20),(-0.99,-3.30),(-1.10,-3.34),(-1.35,-3.36),(-1.48,-3.38),(-1.60,-3.44),(-1.24,-3.48),(-1.31,-3.54),(-1.56,-3.56),
(-0.60,-3.61),(-0.25,-3.63),(-1.15,-3.73),(-0.95,-3.71),(-0.64,-3.76),(-0.69,-3.83),(-1.64,-3.85),(-0.46,-3.07),(-0.57,-3.14),(-0.37,-3.16),
(-0.26,-3.17),(-0.55,-3.26),(-0.44,-3.19),(1.82,-3.54),(0.23,-3.52),(0.31,-3.62),(0.20,-3.69),(0.31,-3.78),(-0.03,-3.81),(0.38,-3.90),
(-0.15,-4.09),(-0.11,-4.24),(0.03,-4.41),(-0.07,-4.49),(0.15,-3.21),(-0.07,-3.17),(-0.11,-3.34),(0.33,-3.08),(0.76,-3.88),(0.87,-3.89),
(1.05,-3.86),(2.11,-3.42),(1.98,-3.40),(2.19,-3.24),(2.27,-3.31),(2.42,-3.37),(2.66,-3.38),(2.55,-3.49),(2.64,-3.52),(2.49,-3.54),
(2.27,-3.52),(2.13,-3.52),(2.42,-3.65),(2.91,-3.37),(2.89,-3.43),(2.89,-3.55),(3.00,-3.65),(3.11,-3.92),(2.64,-3.65),(2.29,-3.93),
(1.75,-3.92),(1.78,-4.01),(1.93,-3.92),(2.09,-4.03),(-2.06,-3.59),(-1.95,-3.62),(-1.79,-3.62),(-2.07,-3.67),(-1.64,-3.84),(-1.95,-3.06),
(-1.70,-3.02),(-1.68,-2.94)]
midnight = [(-2.54,-3.30),(-2.30,-3.24),(-2.28,-3.30),(-2.06,-3.21),(-2.06,-3.33),(-2.15,-3.40),(-2.08,-3.41),(-1.97,-3.46),(-1.86,-3.19),(-1.77,-3.27),
(-1.66,-3.30),(-1.88,-3.24),(0.47,-4.09),(0.63,-4.03),(0.65,-4.19),(0.85,-4.06),(0.76,-4.14),(1.18,-4.06),(1.02,-4.12),(1.22,-4.19),
(1.36,-4.16),(0.85,-4.25),(0.40,-4.31),(0.56,-4.30),(0.71,-4.36),(1.11,-4.28),(1.00,-4.33),(0.20,-4.42),(0.40,-4.41),(0.60,-4.42),
(0.67,-4.47),(0.43,-4.50),(0.96,-4.42),(1.22,-4.42),(0.34,-4.60),(0.47,-4.60),(0.63,-4.66),(0.54,-4.72),(0.82,-4.57),(0.96,-4.54),
(1.16,-4.53),(0.76,-4.76),(0.91,-4.79),(1.09,-4.72),(1.20,-4.68),(1.33,-4.66),(1.00,-4.82),(1.18,-4.80),(1.31,-4.83),(1.18,-4.94),
(1.49,-4.90),(1.64,-4.96),(0.59,-4.89),(1.53,-4.79),(1.68,-4.81),(1.42,-4.76),(1.82,-4.79),(1.98,-4.76),(2.11,-4.72),(2.20,-4.66),
(2.20,-4.79),(1.87,-4.93),(2.07,-4.98),(1.93,-4.99),(2.04,-4.90),(2.27,-5.02),(2.18,-4.88),(2.38,-4.88),(2.55,-4.91),(2.53,-4.80),
(2.73,-4.77),(2.71,-4.68),(2.49,-4.63),(2.60,-4.71),(2.91,-4.80),(3.04,-4.74),(3.22,-4.79),(3.22,-4.87),(3.11,-4.94),(2.93,-4.71),
(2.00,-4.08),(2.04,-4.17),(1.93,-4.28),(1.73,-4.23),(1.67,-4.17),(1.62,-4.09),(2.20,-4.35),(2.15,-4.44),(2.15,-4.52),(1.98,-4.57),
(2.40,-4.52),(2.42,-4.41),(2.49,-4.31),(2.55,-4.41),(2.69,-4.46),(2.75,-4.57),(2.74,-4.33),(2.31,-4.11),(2.44,-4.16),(2.49,-4.07),
(2.74,-4.12),(2.96,-4.05),(2.89,-4.27),(3.13,-4.11),(3.31,-4.17),(3.22,-4.66),(3.40,-4.50),(3.31,-4.63),(2.11,-4.61),
(0.55,-4.60),(0.75,-4.65),(0.85,-4.70),(0.95,-4.75),(1.10,-4.65),(1.25,-4.75),(2.05,-4.83),(2.15,-4.85),(2.30,-4.90),(1.95,-4.85),(2.60,-4.60)]

# pseudotime value of each group, same order as the lists
cell_groups = [midnight, navy, indigo, deep_violet, violet, purple, magenta, pink, rose, coral, orange, gold, yellow, bright_yellow]
group_time = [0.25, 0.6, 1.1, 1.9, 2.5, 2.9, 3.5, 4.3, 4.9, 6.7, 7.6, 8.3, 9.1, 9.5]

# trajectory branches
branch_a = [(-5.625,0.938),(-5.76,0.73),(-5.94,0.16),(-5.72,0.10),(-5.52,-0.33),(-5.52,-0.81),(-5.07,-0.98),(-5.12,-1.28),(-5.19,-1.545)]
branch_b = [(-5.19,-1.545),(-5.33,-1.78),(-5.45,-2.01),(-5.92,-1.69),(-6.25,-2.06),(-6.52,-1.78),(-6.72,-1.58)]
branch_c = [(-5.19,-1.545),(-4.92,-1.73),(-4.83,-1.82),(-4.51,-2.51),(-4.93,-2.82),(-4.76,-3.29),(-4.36,-3.62),(-3.90,-3.51),(-3.60,-3.77),
(-3.26,-3.49),(-2.86,-3.27),(-2.61,-2.75),(-2.34,-2.77),(-2.03,-2.82)]
branch_d = [(-2.03,-2.82),(-1.97,-2.58),(-1.88,-2.20),(-2.39,-1.77),(-2.33,-1.37),(-2.01,-0.635),(-2.13,0.076),(-1.50,0.41),(-0.86,-0.05),
(0.69,-0.445),(1.22,-0.54),(1.73,-0.71),(1.82,-0.93),(1.915,-1.165)]
branch_e = [(1.915,-1.165),(1.60,-1.21),(1.36,-1.26),(1.25,-1.40),(1.09,-1.61)]
branch_f = [(1.915,-1.165),(2.19,-1.30),(2.58,-1.49),(2.73,-1.75),(2.93,-2.20),(2.89,-2.61),(2.85,-2.815),(3.18,-2.94),(3.39,-3.01),(3.47,-3.51),
(3.86,-3.32),(4.24,-3.57),(4.52,-3.16),(4.88,-3.44),(4.77,-4.01),(4.27,-4.33),(3.64,-4.41),(3.11,-4.43),(2.71,-3.87),(2.05,-3.76),(1.42,-3.76),(1.61,-4.50)]

# labelled nodes: x, y, text
root_nodes = [(-5.625,0.938,'3'),(-6.72,-1.58,'1'),(1.09,-1.61,'2')]
branch_nodes = [(-5.19,-1.545,'2'),(1.915,-1.165,'1')]
leaf_nodes = [(-2.03,-2.82,'7'),(2.85,-2.815,'2'),(1.42,-3.76,'3'),(2.05,-3.76,'6'),(2.71,-3.87,'5'),(3.11,-4.43,'4'),(1.61,-4.50,'1')]

xticks = [-7.5, -5.0, -2.5, 0.0, 2.5, 5.0]
yticks = [-4, -2, 0, 2]
bar_ticks = [0.0, 2.5, 5.0, 7.5]

W, H = 1344, 960
fig = plt.figure(figsize=(7, 5), dpi=192)
ax = fig.add_axes([85/W, 1-873/H, (1120-85)/W, (873-15)/H])

xs = np.concatenate([[p[0] for p in g] for g in cell_groups])
ys = np.concatenate([[p[1] for p in g] for g in cell_groups])
ts = np.concatenate([[t]*len(g) for g, t in zip(cell_groups, group_time)])

norm = Normalize(0, 9.54)
# black disc layer first so touching cells merge like in the original
ax.scatter(xs, ys, s=24, c='black', linewidths=0, zorder=2)
sc = ax.scatter(xs, ys, s=16.5, c=ts, cmap='plasma', norm=norm, linewidths=0, zorder=3)

for br in [branch_a, branch_b, branch_c, branch_d, branch_e, branch_f]:
    ax.plot([p[0] for p in br], [p[1] for p in br], color='#4d4d4d', lw=1.6, zorder=4, solid_joinstyle='miter')

def draw_nodes(nodes, face, edge, txt):
    for x, y, s in nodes:
        ax.plot(x, y, 'o', ms=16.4, mfc=face, mec=edge, mew=1.3, zorder=5)
        ax.text(x, y-0.01, s, color=txt, fontsize=14, ha='center', va='center', zorder=6)

draw_nodes(root_nodes, '#d0d0d0', 'black', 'black')
draw_nodes(leaf_nodes, 'white', 'black', 'black')
draw_nodes(branch_nodes, 'black', 'white', 'white')

ax.set_xlim(-7.886, 5.878)
ax.set_ylim(-5.384, 2.749)
ax.set_xticks(xticks)
ax.set_xticklabels(['%.1f' % v for v in xticks])
ax.set_yticks(yticks)
ax.spines['top'].set_visible(False)
ax.spines['right'].set_visible(False)
ax.spines['left'].set_linewidth(0.5)
ax.spines['bottom'].set_linewidth(0.5)
ax.tick_params(length=2.75, width=0.5, labelsize=8.8, labelcolor='#4d4d4d', color='#333333', pad=2.2)
ax.set_xlabel('UMAP 1', fontsize=11, labelpad=2.4)
ax.set_ylabel('UMAP 2', fontsize=11, labelpad=3)

# colour bar legend
cax = fig.add_axes([1165/W, 1-581/H, 46/W, (581-351)/H])
cb = fig.colorbar(sc, cax=cax, ticks=bar_ticks)
cb.outline.set_visible(False)
cb.ax.set_yticklabels(['%.1f' % v for v in bar_ticks])
cb.ax.tick_params(left=True, right=True, direction='in', length=3.4, width=0.4, color='white', labelsize=8.8, pad=5.2)
fig.text(1164/W, 1-324/H, 'pseudotime', fontsize=11, ha='left', va='center')

fig.savefig('out.png', dpi=192)
